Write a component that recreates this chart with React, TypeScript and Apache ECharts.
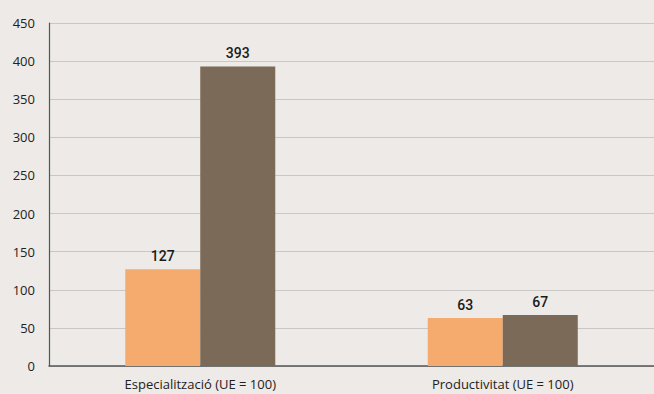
import React, { useEffect, useRef } from "react";
import * as echarts from "echarts";

const categories = ["Especialització (UE = 100)", "Productivitat (UE = 100)"];
const seriesA = [127, 63];
const seriesB = [393, 67];
const yTicks = { min: 0, max: 450, interval: 50 };

export default function App() {
  const ref = useRef<HTMLDivElement>(null);
  useEffect(() => {
    document.body.style.margin = "0";
    const chart = echarts.init(ref.current!, null, { renderer: "svg" });
    const labelStyle = {
      show: true,
      position: "top" as const,
      distance: 6,
      fontFamily: "Roboto",
      fontWeight: 500,
      fontSize: 14,
      color: "#1a1a1a",
    };
    chart.setOption({
      animation: false,
      backgroundColor: "#edeae7",
      grid: { left: 49, right: 0, top: 23, bottom: 28 },
      xAxis: {
        type: "category",
        data: categories,
        axisTick: { show: false },
        axisLine: { lineStyle: { color: "#555", width: 1.5 } },
        axisLabel: { fontFamily: "Open Sans", fontSize: 13, color: "#222", margin: 11 },
      },
      yAxis: {
        type: "value",
        min: yTicks.min,
        max: yTicks.max,
        interval: yTicks.interval,
        axisLine: { show: true, lineStyle: { color: "#555", width: 1.2 } },
        axisTick: { show: false },
        axisLabel: { fontFamily: "Open Sans", fontSize: 13, color: "#222", margin: 14 },
        splitLine: { lineStyle: { color: "#c9c7c5", width: 1.2 } },
      },
      series: [
        {
          type: "bar",
          data: seriesA,
          barWidth: 75,
          barGap: "0%",
          itemStyle: { color: "#f5aa6e" },
          label: labelStyle,
        },
        {
          type: "bar",
          data: seriesB,
          barWidth: 75,
          itemStyle: { color: "#7a6a57" },
          label: labelStyle,
        },
      ],
    });
    return () => chart.dispose();
  }, []);
  return <div ref={ref} style={{ width: 654, height: 394 }} />;
}
